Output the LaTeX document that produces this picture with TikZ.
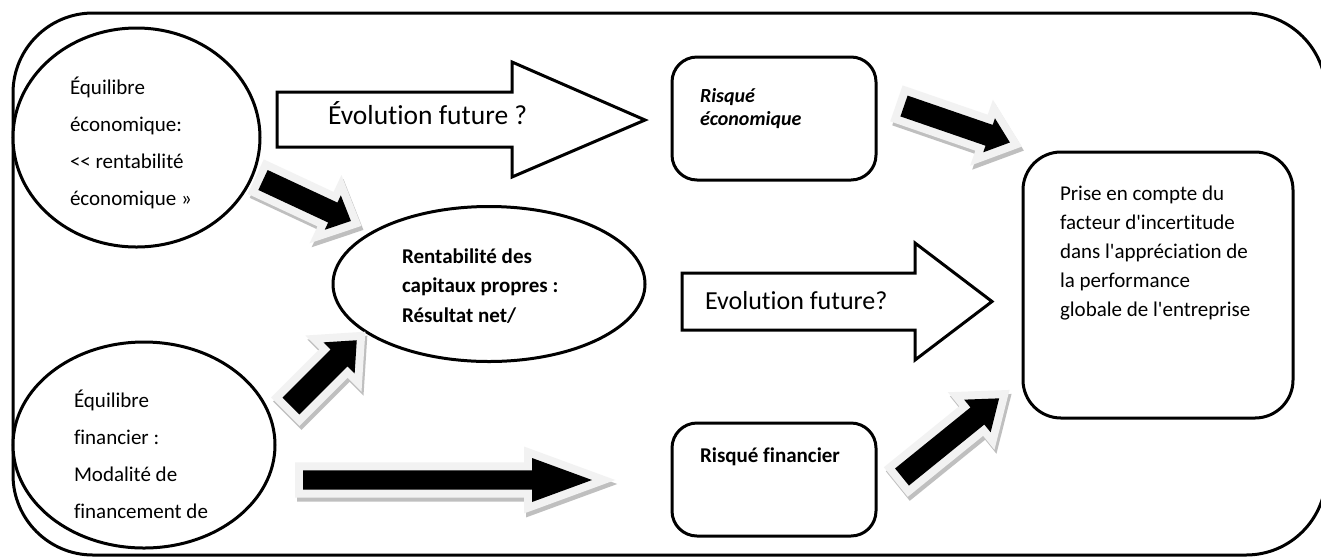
\documentclass[tikz,border=0pt]{standalone}
\usepackage{fontspec}
\newfontfamily\carl{Carlito}[Ligatures=NoCommon]
\usetikzlibrary{shapes.geometric}
\newcommand\topstrut{\rule{0pt}{20pt}}
% #1,#2 start (centre of tail), #3 angle, #4 length, #5 shaft half width, #6 head half width, #7 head length
\newcommand\blockarrow[7]{%
  \begin{scope}[shift={(#1+2,#2+4)},rotate=#3]
    \path[arrowshadow] (0,-#5) -- (#4-#7,-#5) -- (#4-#7,-#6) -- (#4,0) -- (#4-#7,#6) -- (#4-#7,#5) -- (0,#5) -- cycle;
  \end{scope}
  \begin{scope}[shift={(#1,#2)},rotate=#3]
    \path[arrowglow] (0,-#5) -- (#4-#7,-#5) -- (#4-#7,-#6) -- (#4,0) -- (#4-#7,#6) -- (#4-#7,#5) -- (0,#5) -- cycle;
    \path[arrowbody] (0,-#5) -- (#4-#7,-#5) -- (#4-#7,-#6) -- (#4,0) -- (#4-#7,#6) -- (#4-#7,#5) -- (0,#5) -- cycle;
  \end{scope}}
\tikzset{
  every node/.style={inner sep=0pt, outer sep=0pt},
  outline/.style={draw=black, line width=3pt},
  oval/.style={outline, ellipse, fill=white},
  roundbox/.style={outline, rectangle, rounded corners=#1, fill=white},
  bodytext/.style={anchor=north west, align=left, font=\carl\fontsize{21}{37}\selectfont},
  hollowarrow/.style={outline, fill=white, line join=miter},
  arrowshadow/.style={fill=black!25, draw=black!25, line width=16pt, line join=miter},
  arrowglow/.style={fill=black, draw=black!5, line width=16pt, line join=miter},
  arrowbody/.style={fill=black},
}
\begin{document}
\begin{tikzpicture}[x=1pt,y=-1pt]
\useasboundingbox (0,0) rectangle (1321,558);
\clip (0,0) rectangle (1321,558);
\fill[white] (0,0) rectangle (1321,558);
% outer frame
\draw[outline, rounded corners=80pt] (13,13) rectangle (1326,555);

% ellipses
\node[oval, minimum width=247pt, minimum height=219pt] (eco) at (136.5,137.5) {};
\node[oval, minimum width=262pt, minimum height=206pt] (fin) at (144,445) {};
\node[oval, minimum width=312pt, minimum height=155pt] (rcp) at (489,284) {};

% rounded boxes
\node[roundbox=25pt, minimum width=204pt, minimum height=123pt] (reco) at (774,118.5) {};
\node[roundbox=25pt, minimum width=204pt, minimum height=113pt] (rfin) at (774,479.5) {};
\node[roundbox=38pt, minimum width=270pt, minimum height=266pt] (glob) at (1158,285) {};

% texts
\node[bodytext] (ecotext) at (70,74) {\topstrut Équilibre\\économique:\\<< rentabilité\\économique »};
\node[bodytext] (fintext) at (74,387) {\topstrut Équilibre\\financier :\\Modalité de\\financement de};
\node[bodytext, font=\carl\bfseries\fontsize{21}{29.7}\selectfont] (rcptext) at (402,243) {\topstrut Rentabilité des\\capitaux propres :\\Résultat net/};
\node[bodytext, font=\carl\bfseries\itshape\fontsize{20}{23}\selectfont] (recotext) at (700,82) {\topstrut Risqué\\économique};
\node[anchor=base west, font=\carl\bfseries\fontsize{21}{25}\selectfont] (rfintext) at (700,462) {Risqué financier};
\node[bodytext, font=\carl\fontsize{21}{29}\selectfont] (globtext) at (1060,180) {\topstrut Prise en compte du\\facteur d'incertitude\\dans l'appréciation de\\la performance\\globale de l'entreprise};

% hollow arrows
\draw[hollowarrow] (277,92) -- (512,92) -- (512,62) -- (645,120) -- (512,177) -- (512,147) -- (277,147) -- cycle;
\node[anchor=base west, font=\carl\fontsize{27.5}{33}\selectfont] (evo1) at (328,124) {Évolution future ?};
\draw[hollowarrow] (682,273) -- (915,273) -- (915,243) -- (992,301.5) -- (915,360) -- (915,330) -- (682,330) -- cycle;
\node[anchor=base west, font=\carl\fontsize{26}{31}\selectfont] (evo2) at (705,309) {Evolution future?};

% black shadowed arrows
\blockarrow{263}{180}{-25}{97}{11}{19}{20}
\blockarrow{291}{406}{45}{93}{12}{22}{25}
\blockarrow{303}{480}{0}{289}{9.7}{22}{60}
\blockarrow{904}{106}{-19}{112}{11}{18}{22}
\blockarrow{902}{477}{39}{125}{11}{21}{28}
\end{tikzpicture}
\end{document}
